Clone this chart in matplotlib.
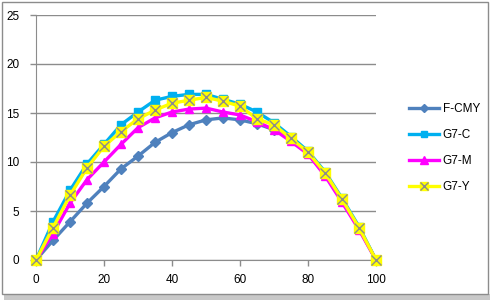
import matplotlib.pyplot as plt
from matplotlib.patches import Rectangle
from matplotlib.legend_handler import HandlerTuple

x = [0, 5, 10, 15, 20, 25, 30, 35, 40, 45, 50, 55, 60, 65, 70, 75, 80, 85, 90, 95, 100]

f_cmy = [0, 2.0, 3.9, 5.8, 7.5, 9.3, 10.6, 12.0, 13.0, 13.8, 14.3, 14.5, 14.3, 13.9, 13.3, 12.3, 10.9, 8.8, 6.1, 3.2, 0]
g7_c = [0, 3.9, 7.1, 9.8, 11.8, 13.8, 15.1, 16.3, 16.7, 16.9, 16.9, 16.4, 15.9, 15.1, 14.0, 12.6, 11.1, 9.0, 6.3, 3.4, 0]
g7_m = [0, 2.7, 5.8, 8.2, 10.0, 11.8, 13.5, 14.5, 15.1, 15.4, 15.5, 15.1, 14.8, 14.1, 13.3, 12.1, 10.8, 8.6, 5.9, 3.1, 0]
g7_y = [0, 3.3, 6.6, 9.4, 11.6, 13.1, 14.4, 15.3, 16.0, 16.3, 16.6, 16.2, 15.7, 14.4, 13.8, 12.4, 11.0, 8.9, 6.2, 3.3, 0]

plt.rcParams['font.family'] = ['Liberation Sans', 'DejaVu Sans']

fig = plt.figure(figsize=(4.91, 3.0), dpi=100)
ax = fig.add_axes([36 / 491, 40 / 300, 340 / 491, 245 / 300])
ax.patch.set_alpha(0)

# chart border + shadow like an Excel chart
fig.patches.append(Rectangle((4 / 491, 0 / 300), 486 / 491, 6 / 300, transform=fig.transFigure,
                             facecolor='#c8c8c8', edgecolor='none', zorder=-2))
fig.patches.append(Rectangle((2 / 491, 6 / 300), 486 / 491, 292 / 300, transform=fig.transFigure,
                             facecolor='white', edgecolor='#8c8c8c', linewidth=1, zorder=-1))

lw = 2.4
h1, = ax.plot(x, f_cmy, color='#4f81bd', lw=lw, marker='D', ms=5, mec='#4f81bd', clip_on=False, zorder=3)
h2, = ax.plot(x, g7_c, color='#00b0f0', lw=lw, marker='s', ms=5.5, mec='#00b0f0', clip_on=False, zorder=4)
h3, = ax.plot(x, g7_m, color='#ff00ff', lw=lw, marker='^', ms=6, mec='#ff00ff', clip_on=False, zorder=5)
h4a, = ax.plot(x, g7_y, color='#ffff00', lw=lw, marker='s', ms=7, mec='#ffff00', clip_on=False, zorder=6)
h4b, = ax.plot(x, g7_y, color='#8c8c8c', lw=0, marker='x', ms=7, mew=1, clip_on=False, zorder=7)

ax.set_xlim(0, 100)
ax.set_ylim(0, 25)
ax.set_xticks([0, 20, 40, 60, 80, 100])
ax.set_yticks([0, 5, 10, 15, 20, 25])
ax.yaxis.grid(True, color='#8c8c8c', lw=1)
ax.set_axisbelow(True)
for s in ['top', 'right']:
    ax.spines[s].set_visible(False)
for s in ['left', 'bottom']:
    ax.spines[s].set_color('#8c8c8c')
ax.tick_params(axis='both', colors='#8c8c8c', labelcolor='black', labelsize=8.5, length=4, width=1)
ax.tick_params(axis='y', pad=8)
ax.tick_params(axis='x', pad=6)

ax.legend([h1, h2, h3, (h4a, h4b)], ['F-CMY', 'G7-C', 'G7-M', 'G7-Y'],
          handler_map={tuple: HandlerTuple(ndivide=1, pad=0)},
          loc='center left', bbox_to_anchor=(398 / 491, 152 / 300), bbox_transform=fig.transFigure,
          frameon=False, fontsize=8.5, handlelength=2.6, handletextpad=0.3, labelspacing=1.2,
          markerscale=0.85)

fig.savefig('out.png', dpi=100)
